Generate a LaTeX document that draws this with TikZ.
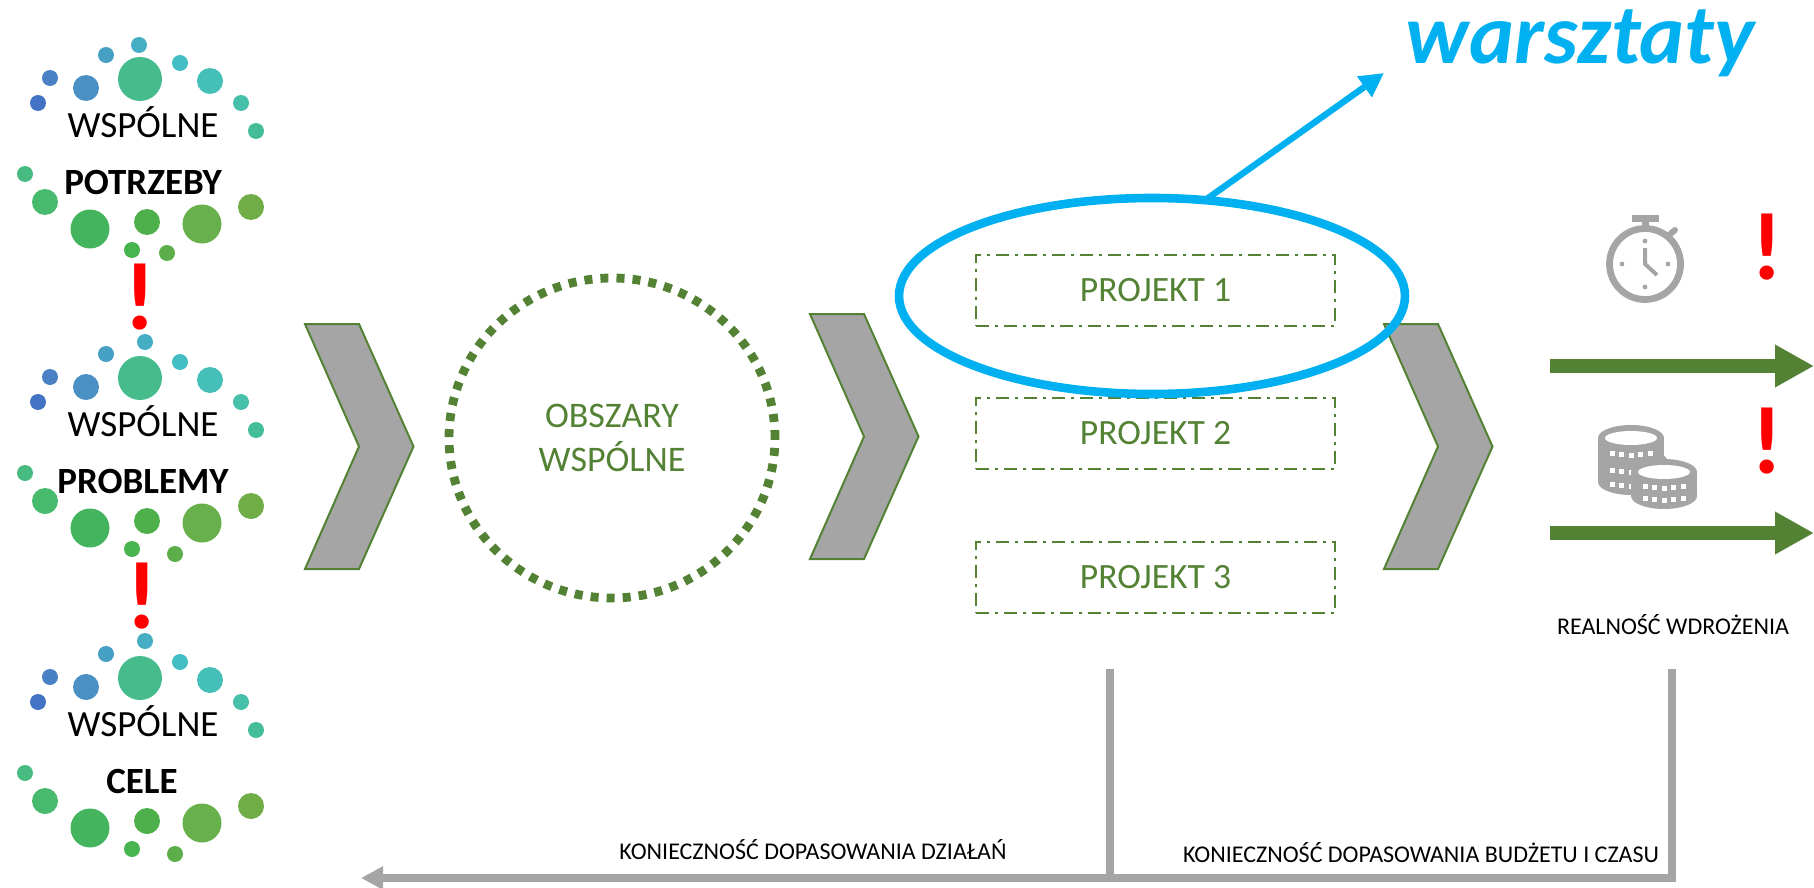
\documentclass[tikz,border=0pt]{standalone}
\usepackage{fontspec}
\setmainfont{Carlito}
\usepackage{tikz}
\usetikzlibrary{arrows.meta,shapes.geometric}
\definecolor{leaf}{HTML}{548235}
\definecolor{steel}{HTML}{A5A5A5}
\definecolor{sky}{HTML}{00B0F0}
\definecolor{alert}{HTML}{FF0000}

\tikzset{
	chev/.style={draw=leaf,fill=steel,line width=1pt},
	project/.style={draw=leaf,line width=1pt,dash pattern=on 6.5pt off 3pt on 1.5pt off 3pt,outer sep=0pt,minimum width=179.5pt,minimum height=35.5pt,text=leaf,font=\fontsize{17.8}{18}\selectfont},
	head/.style={anchor=base,inner sep=0pt,font=\fontsize{18.5}{18.5}\selectfont},
	keyword/.style={head,font=\bfseries\fontsize{18.5}{18.5}\selectfont},
	note/.style={anchor=base,inner sep=0pt,font=\fontsize{12}{12}\selectfont},
	bang/.style={inner sep=0pt,text=alert,font=\bfseries\fontsize{48}{48}\selectfont},
	flow/.style={leaf,line width=7pt,-{Triangle[length=19.5pt,width=20pt]}},
	feedback/.style={steel,line width=4pt}
}

% one cluster of dots: y shift, then the place of the two dots that move
\newcommand{\drawdots}[5]{
	\foreach \cx/\cy/\sz/\col in {38/103/16/4472C4,50/78/16/4A80C4,86/88/26/4A90C4,106/55/16/45A0C4,140/79/44/46BC8C,180/63/16/43BEC4,210/81/26/45C0B8,241/103/16/46C0AA,256/131/16/44BE98,25/174/16/48BC80,45/202/26/48BA6E,90/229/39/45B45E,132/250/16/48B450,147/222/26/4DB04A,202/224/39/67B04C,251/207/26/70AD47}{
		\definecolor{dotcol}{HTML}{\col}
		\fill[dotcol] (\cx,\cy+#1) circle ({\sz/2});
	}
	\fill[color={rgb,255:red,69;green,174;blue,196}] (#2,#3) circle (8);
	\fill[color={rgb,255:red,91;green,174;blue,74}] (#4,#5) circle (8);
}

% white notches on the rim of a coin
\newcommand{\coinrow}[2]{
	\foreach \dx/\dy in {-19/-2,-9.5/-0.5,0/0,9.5/-0.5,19/-2}
		\fill[white] (#1+\dx-2.5,#2+\dy-2.5) rectangle ++(5,5);
}

\begin{document}
\begin{tikzpicture}[x=0.5pt,y=-0.5pt]
	\useasboundingbox (0,0) rectangle (1814,888);

	\drawdots{0}{139}{45}{167}{253}
	\drawdots{299}{145}{342}{175}{554}
	\drawdots{599}{145}{641}{175}{854}

	\node[head] (w1) at (143,137) {WSPÓLNE};
	\node[keyword] (k1) at (143,194) {POTRZEBY};
	\node[head] (w2) at (143,436) {WSPÓLNE};
	\node[keyword] (k2) at (143,493) {PROBLEMY};
	\node[head] (w3) at (143,736) {WSPÓLNE};
	\node[keyword] (k3) at (142,793) {CELE};
	\node[bang] (b1) at (140,297) {!};
	\node[bang] (b2) at (142,596) {!};

	\foreach \cx/\cy in {305/324,810/314,1384/324}
		\draw[chev] (\cx,\cy) -- ++(54,0) -- ++(54.5,122.5) -- ++(-54.5,122.5) -- ++(-54,0) -- ++(54,-122.5) -- cycle;

	\node[ellipse,draw=leaf,line width=4.4pt,dash pattern=on 4.02pt off 4.02pt,outer sep=0pt,inner sep=0pt,minimum width=163pt,minimum height=160pt,align=center,text=leaf,font=\fontsize{18}{22.2}\selectfont] (area) at (612,438) {OBSZARY\\WSPÓLNE};

	\node[project] (p1) at (1155.5,290.5) {PROJEKT 1};
	\node[project] (p2) at (1155.5,433.5) {PROJEKT 2};
	\node[project] (p3) at (1155.5,577.5) {PROJEKT 3};

	\node[ellipse,draw=sky,line width=4.3pt,outer sep=0pt,inner sep=0pt,minimum width=253pt,minimum height=98pt] (spot) at (1152,296) {};
	\coordinate (wtip) at (1384,73);
	\draw[sky,line width=3.2pt,-{Triangle[length=12pt,width=12pt]}] (spot.61) -- (wtip);
	\node[anchor=base,inner sep=0pt,text=sky,font=\bfseries\itshape\fontsize{42.6}{42.6}\selectfont] (wtitle) at (1580,64) {warsztaty};

	% stopwatch
	\draw[steel,line width=3.4pt] (1645,264) circle (35.5);
	\fill[steel] (1632,215) rectangle (1659,222);
	\fill[steel] (1642,222) rectangle (1649,229);
	\draw[steel,line width=3pt,line cap=round] (1669,235) -- (1675,230);
	\foreach \dx/\dy in {0/-23,23/0,0/23,-23/0}
		\fill[steel] (1645+\dx,264+\dy) circle (2.4);
	\draw[steel,line width=2pt] (1645,248) -- (1645,264) -- (1657,275);

	% coins
	\fill[steel] (1631,438) ellipse (33 and 13);
	\fill[steel] (1635,462) ellipse (33 and 13);
	\fill[steel] (1598,438) rectangle (1664,482);
	\fill[steel] (1631,482) ellipse (33 and 13);
	\fill[white] (1631,438) ellipse (26 and 7);
	\coinrow{1631}{455}
	\coinrow{1631}{472}
	\coinrow{1631}{486}
	\fill[steel] (1664,472) ellipse (33 and 13);
	\fill[steel] (1631,472) rectangle (1697,496);
	\fill[steel] (1664,496) ellipse (33 and 13);
	\fill[white] (1664,472) ellipse (26 and 7);
	\coinrow{1664}{488}
	\coinrow{1664}{500}

	\node[bang] (b3) at (1767,247.5) {!};
	\node[bang] (b4) at (1767,441.5) {!};

	\coordinate (t1) at (1550,366);
	\coordinate (t2) at (1814,366);
	\coordinate (c1) at (1550,533);
	\coordinate (c2) at (1814,533);
	\foreach \from/\to in {t1/t2,c1/c2}
		\draw[flow] (\from) -- (\to);

	\node[note] (real) at (1673,634) {REALNOŚĆ WDROŻENIA};
	\node[note] (act) at (813,859) {KONIECZNOŚĆ DOPASOWANIA DZIAŁAŃ};
	\node[note] (bud) at (1421,862) {KONIECZNOŚĆ DOPASOWANIA BUDŻETU I CZASU};

	\coordinate (r1) at (1672,669);
	\coordinate (r2) at (361,878);
	\coordinate (m1) at (1110,669);
	\coordinate (m2) at (1110,878);
	\draw[feedback,-{Triangle[length=11pt,width=11pt]}] (r1) |- (r2);
	\draw[feedback] (m1) -- (m2);
\end{tikzpicture}
\end{document}
